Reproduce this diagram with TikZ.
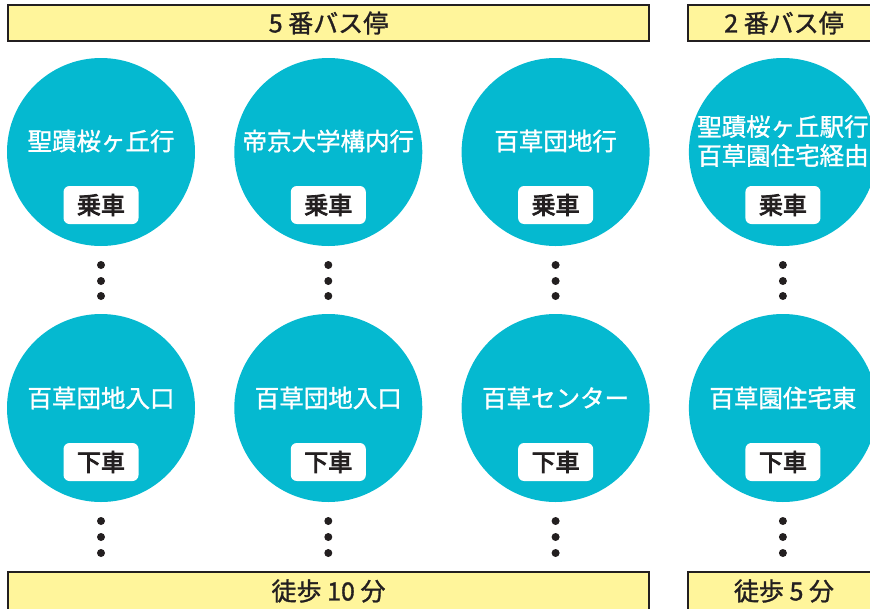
\documentclass[tikz,border=0pt]{standalone}
\usepackage{fontspec}
\setmainfont{Noto Sans CJK JP}
\newfontfamily\medfont{Noto Sans CJK JP}[FakeBold=1.2]
\newfontfamily\labelfont{Noto Sans CJK JP}[FakeBold=3.4]

\definecolor{busteal}{HTML}{05B9D0}
\definecolor{baryellow}{HTML}{FFF59B}
\definecolor{inkdark}{HTML}{231F20}

\tikzset{
  barbox/.style={draw=inkdark, line width=1.5pt, fill=baryellow, minimum height=36pt, inner sep=0pt, text=inkdark, font=\medfont\fontsize{25}{28}\selectfont},
  stopcircle/.style={circle, fill=busteal, minimum size=188pt, inner sep=0pt},
  desttext/.style={text=white, align=center, inner sep=0pt, font=\medfont\fontsize{24.5}{29}\selectfont},
  ridebox/.style={fill=white, rounded corners=6pt, minimum width=75pt, minimum height=38pt, inner sep=0pt, text=inkdark, font=\labelfont\fontsize{24}{28}\selectfont},
  dotfill/.style={fill=inkdark}
}

\begin{document}
\begin{tikzpicture}[x=1pt,y=-1pt]
 \useasboundingbox (0,0) rectangle (870,608);

 \def\d{227.3};
 \def\xo{101};

 %bus stop bars
 \node[barbox, minimum width=641pt] (bar5) at (328.5,23) {5 番バス停};
 \node[barbox, minimum width=192pt] (bar2) at (784,23) {2 番バス停};

 %boarding circles
    \foreach \i/\dest/\name in { 0/聖蹟桜ヶ丘行/on1, 1/帝京大学構内行/on2, 2/百草団地行/on3, 3/{聖蹟桜ヶ丘駅行\\百草園住宅経由}/on4 }{
         \node[stopcircle] (\name) at (\xo + \i*\d, 152) {};
         \node[desttext] (\name-t) at (\xo + \i*\d, 141) {\dest};
         \node[ridebox] (\name-b) at (\xo + \i*\d, 205) {乗車};
    }

 %alighting circles
    \foreach \i/\dest/\name in { 0/百草団地入口/off1, 1/百草団地入口/off2, 2/百草センター/off3, 3/百草園住宅東/off4 }{
         \node[stopcircle] (\name) at (\xo + \i*\d, 408) {};
         \node[desttext] (\name-t) at (\xo + \i*\d, 398) {\dest};
         \node[ridebox] (\name-b) at (\xo + \i*\d, 462) {下車};
    }

 %dots
    \foreach \i in {0,...,3}{
      \foreach \y in {265,281,296,521,537,553}{
         \fill[dotfill] (\xo + \i*\d, \y) circle (4);
      }
    }

 %walking bars
 \node[barbox, minimum width=641pt, minimum height=38pt] (walk10) at (328.5,591) {徒歩 10 分};
 \node[barbox, minimum width=192pt, minimum height=38pt] (walk5) at (784,591) {徒歩 5 分};

\end{tikzpicture}
\end{document}
